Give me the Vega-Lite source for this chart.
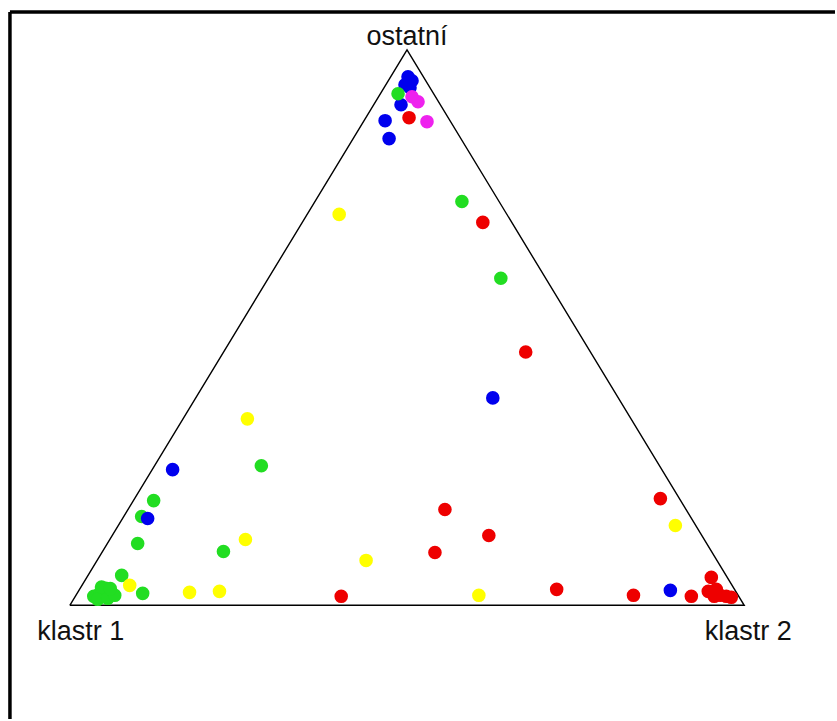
{
  "$schema": "https://vega.github.io/schema/vega-lite/v6.json",
  "width": 837,
  "height": 721,
  "autosize": {"type": "fit", "contains": "padding"},
  "padding": 0,
  "background": "white",
  "config": {"view": {"stroke": null}},
  "datasets": {
    "pts": [
      {"x": 0.5015, "y": 0.9515, "g": "blue"},
      {"x": 0.5074, "y": 0.9443, "g": "blue"},
      {"x": 0.4970, "y": 0.9372, "g": "blue"},
      {"x": 0.5044, "y": 0.9318, "g": "blue"},
      {"x": 0.4911, "y": 0.9013, "g": "blue"},
      {"x": 0.4675, "y": 0.8725, "g": "blue"},
      {"x": 0.4734, "y": 0.8402, "g": "blue"},
      {"x": 0.6272, "y": 0.3734, "g": "blue"},
      {"x": 0.8905, "y": 0.0269, "g": "blue"},
      {"x": 0.4867, "y": 0.9210, "g": "green"},
      {"x": 0.5814, "y": 0.7271, "g": "green"},
      {"x": 0.6391, "y": 0.5889, "g": "green"},
      {"x": 0.2840, "y": 0.2513, "g": "green"},
      {"x": 0.1243, "y": 0.1885, "g": "green"},
      {"x": 0.1065, "y": 0.1598, "g": "green"},
      {"x": 0.1006, "y": 0.1113, "g": "green"},
      {"x": 0.2278, "y": 0.0969, "g": "green"},
      {"x": 0.0769, "y": 0.0539, "g": "green"},
      {"x": 0.1080, "y": 0.0215, "g": "green"},
      {"x": 0.0355, "y": 0.0162, "g": "green"},
      {"x": 0.0444, "y": 0.0215, "g": "green"},
      {"x": 0.0533, "y": 0.0305, "g": "green"},
      {"x": 0.0503, "y": 0.0162, "g": "green"},
      {"x": 0.0607, "y": 0.0197, "g": "green"},
      {"x": 0.0414, "y": 0.0108, "g": "green"},
      {"x": 0.0562, "y": 0.0126, "g": "green"},
      {"x": 0.0666, "y": 0.0180, "g": "green"},
      {"x": 0.0470, "y": 0.0330, "g": "green"},
      {"x": 0.0600, "y": 0.0300, "g": "green"},
      {"x": 0.1524, "y": 0.2442, "g": "blue"},
      {"x": 0.1154, "y": 0.1562, "g": "blue"},
      {"x": 0.3994, "y": 0.7038, "g": "yellow"},
      {"x": 0.2633, "y": 0.3357, "g": "yellow"},
      {"x": 0.2604, "y": 0.1185, "g": "yellow"},
      {"x": 0.4393, "y": 0.0808, "g": "yellow"},
      {"x": 0.0888, "y": 0.0359, "g": "yellow"},
      {"x": 0.1775, "y": 0.0233, "g": "yellow"},
      {"x": 0.2219, "y": 0.0251, "g": "yellow"},
      {"x": 0.6065, "y": 0.0180, "g": "yellow"},
      {"x": 0.8979, "y": 0.1436, "g": "yellow"},
      {"x": 0.5074, "y": 0.9156, "g": "magenta"},
      {"x": 0.5163, "y": 0.9066, "g": "magenta"},
      {"x": 0.5296, "y": 0.8707, "g": "magenta"},
      {"x": 0.5030, "y": 0.8779, "g": "red"},
      {"x": 0.6124, "y": 0.6894, "g": "red"},
      {"x": 0.6760, "y": 0.4560, "g": "red"},
      {"x": 0.5562, "y": 0.1724, "g": "red"},
      {"x": 0.6213, "y": 0.1257, "g": "red"},
      {"x": 0.5414, "y": 0.0952, "g": "red"},
      {"x": 0.4024, "y": 0.0162, "g": "red"},
      {"x": 0.7219, "y": 0.0287, "g": "red"},
      {"x": 0.8757, "y": 0.1921, "g": "red"},
      {"x": 0.9512, "y": 0.0503, "g": "red"},
      {"x": 0.8358, "y": 0.0180, "g": "red"},
      {"x": 0.9216, "y": 0.0162, "g": "red"},
      {"x": 0.9467, "y": 0.0251, "g": "red"},
      {"x": 0.9586, "y": 0.0287, "g": "red"},
      {"x": 0.9645, "y": 0.0180, "g": "red"},
      {"x": 0.9734, "y": 0.0162, "g": "red"},
      {"x": 0.9808, "y": 0.0144, "g": "red"},
      {"x": 0.9556, "y": 0.0162, "g": "red"}
    ],
    "tri": [
      {"i": 0, "x": 0, "y": 0},
      {"i": 1, "x": 1, "y": 0},
      {"i": 2, "x": 0.5, "y": 1},
      {"i": 3, "x": 0, "y": 0}
    ],
    "labels": [
      {"x": 0.5, "y": 1.009, "t": "ostatní"},
      {"x": 0.0163, "y": -0.0628, "t": "klastr 1"},
      {"x": 1.0059, "y": -0.0628, "t": "klastr 2"}
    ],
    "frame": [
      {"x": -0.0888, "x2": -0.0888, "y": 1.0682, "y2": -0.2046},
      {"x": -0.0888, "x2": 1.1346, "y": 1.0682, "y2": 1.0682}
    ]
  },
  "encoding": {
    "x": {"field": "x", "type": "quantitative", "scale": {"domain": [-0.10355, 1.13462], "nice": false, "zero": false}, "axis": null},
    "y": {"field": "y", "type": "quantitative", "scale": {"domain": [-0.20467, 1.08977], "nice": false, "zero": false}, "axis": null}
  },
  "layer": [
    {
      "data": {"name": "frame"},
      "mark": {"type": "rule", "color": "black", "strokeWidth": 3.5},
      "encoding": {
        "x2": {"field": "x2"},
        "y2": {"field": "y2"}
      }
    },
    {
      "data": {"name": "tri"},
      "mark": {"type": "line", "color": "black", "strokeWidth": 1.4},
      "encoding": {"order": {"field": "i", "type": "quantitative"}}
    },
    {
      "data": {"name": "pts"},
      "mark": {"type": "circle", "size": 185, "opacity": 1},
      "encoding": {
        "color": {
          "field": "g",
          "type": "nominal",
          "legend": null,
          "scale": {
            "domain": ["blue", "green", "yellow", "magenta", "red"],
            "range": ["#0000EE", "#22DD22", "#FFFF00", "#EE22EE", "#EE0000"]
          }
        }
      }
    },
    {
      "data": {"name": "labels"},
      "mark": {"type": "text", "font": "Liberation Sans", "fontSize": 27, "color": "#111111", "align": "center", "baseline": "alphabetic"},
      "encoding": {"text": {"field": "t"}}
    }
  ]
}
